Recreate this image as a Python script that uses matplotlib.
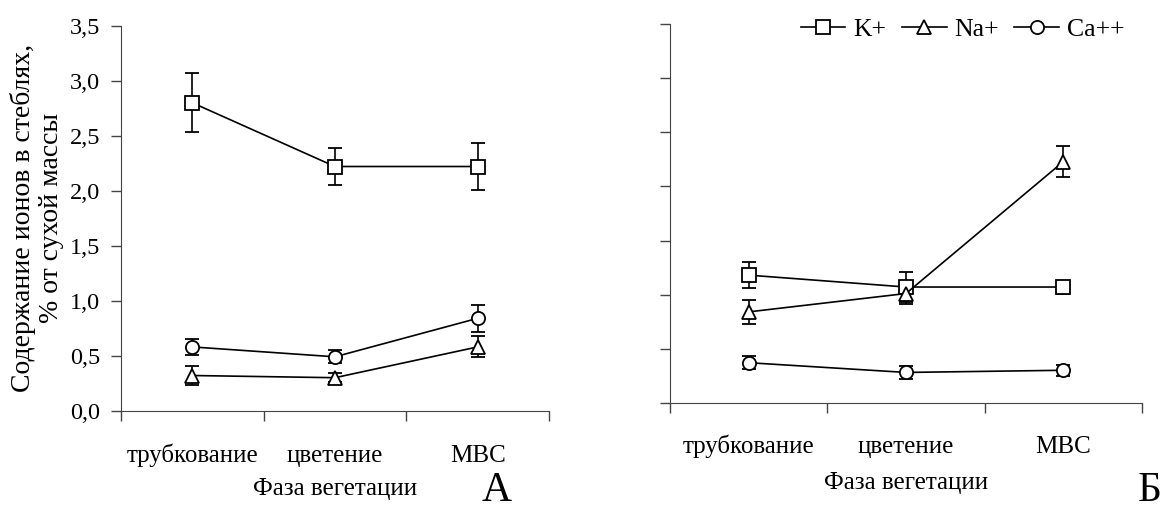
import matplotlib
matplotlib.use('Agg')
import matplotlib.pyplot as plt

plt.rcParams['font.family'] = ['Liberation Serif', 'DejaVu Serif']

# phases of vegetation (x categories)
phases = ['трубкование', 'цветение', 'МВС']
ions = ['K+', 'Na+', 'Ca++']

# panel A - ion content, % of dry mass
a_k = [2.80, 2.22, 2.22]
a_k_err = [0.27, 0.17, 0.21]
a_na = [0.32, 0.30, 0.58]
a_na_err = [0.085, 0.04, 0.095]
a_ca = [0.58, 0.49, 0.84]
a_ca_err = [0.07, 0.06, 0.125]

# panel B
b_k = [1.18, 1.07, 1.07]
b_k_err = [0.12, 0.14, 0.06]
b_na = [0.84, 1.01, 2.23]
b_na_err = [0.11, 0.10, 0.145]
b_ca = [0.37, 0.28, 0.30]
b_ca_err = [0.06, 0.06, 0.05]

y_ticks = [0.0, 0.5, 1.0, 1.5, 2.0, 2.5, 3.0, 3.5]
y_tick_labels = ['0,0', '0,5', '1,0', '1,5', '2,0', '2,5', '3,0', '3,5']

markers = ['s', '^', 'o']
axis_color = '#444444'

fig = plt.figure(figsize=(11.69, 5.13), dpi=100)
ax_a = fig.add_axes([0.1033, 0.1994, 0.3664, 0.7505])
ax_b = fig.add_axes([0.5731, 0.2150, 0.4038, 0.7376])


def draw_panel(ax, series, errors, show_labels, tick_pad, label_pad):
    x = list(range(len(phases)))
    for vals, errs, m, name in zip(series, errors, markers, ions):
        ax.errorbar(x, vals, yerr=errs, color='black', lw=1.2,
                    elinewidth=1.2, capsize=5, capthick=1.2,
                    marker=m, markersize=9.5, markerfacecolor='white',
                    markeredgecolor='black', markeredgewidth=1.3,
                    label=name)
    ax.set_xlim(-0.5, len(phases) - 0.5)
    ax.set_ylim(0, 3.5)
    ax.set_yticks(y_ticks)
    if show_labels:
        ax.set_yticklabels(y_tick_labels, fontsize=17.5)
    else:
        ax.set_yticklabels([])
    # category boundaries get the tick marks, names go in between
    ax.set_xticks([-0.5, 0.5, 1.5, 2.5])
    ax.set_xticklabels([])
    ax.set_xticks(x, minor=True)
    ax.set_xticklabels(phases, minor=True, fontsize=18)
    for lbl in ax.get_xticklabels(minor=True):
        lbl.set_verticalalignment('baseline')
    ax.tick_params(axis='x', which='minor', length=0, pad=tick_pad)
    ax.tick_params(axis='both', which='major', direction='out', length=7,
                   width=1, color=axis_color, pad=8)
    ax.spines['top'].set_visible(False)
    ax.spines['right'].set_visible(False)
    ax.spines['left'].set_color(axis_color)
    ax.spines['bottom'].set_color(axis_color)
    ax.set_xlabel('Фаза вегетации', fontsize=18, labelpad=label_pad)
    for art in ax.get_children():
        art.set_clip_on(False)


draw_panel(ax_a, [a_k, a_na, a_ca], [a_k_err, a_na_err, a_ca_err], True, 37, 8)
draw_panel(ax_b, [b_k, b_na, b_ca], [b_k_err, b_na_err, b_ca_err], False, 36, 10)

ax_a.set_ylabel('Содержание ионов в стеблях,\n% от сухой массы', fontsize=20,
                linespacing=1.15, labelpad=4)

# legend on panel B
handles, labels = ax_b.get_legend_handles_labels()
ax_b.legend([h[0] for h in handles], labels, loc='upper right', ncol=3,
            frameon=False, fontsize=18.5, handlelength=1.75, handletextpad=0.3,
            columnspacing=0.6, bbox_to_anchor=(0.985, 1.045), borderaxespad=0)

fig.text(0.412, 0.006, 'А', fontsize=30, ha='left', va='bottom')
fig.text(0.973, 0.006, 'Б', fontsize=30, ha='left', va='bottom')

fig.savefig('out.png', dpi=100)
